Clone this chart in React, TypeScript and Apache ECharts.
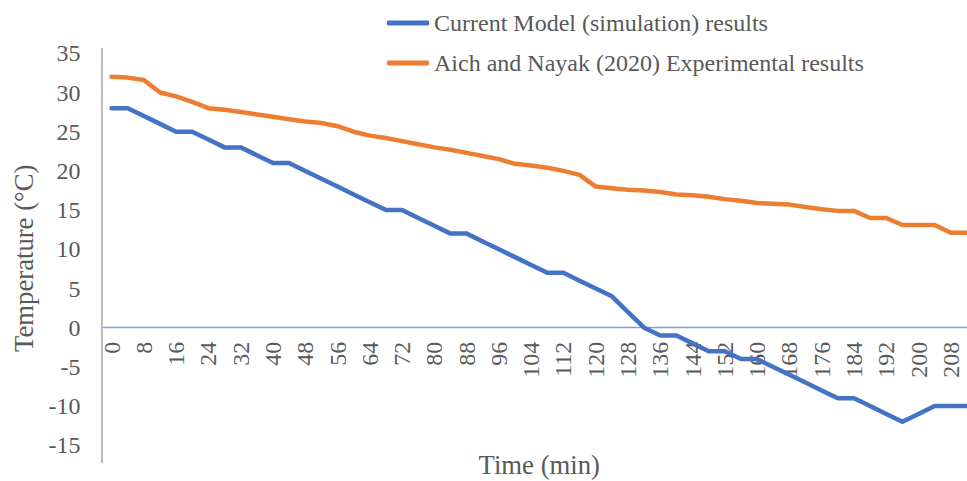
import React, { useEffect, useRef } from "react";
import * as echarts from "echarts";

const timeMinutes: number[] = [
  0, 4, 8, 12, 16, 20, 24, 28, 32, 36, 40, 44, 48, 52, 56, 60, 64, 68, 72, 76,
  80, 84, 88, 92, 96, 100, 104, 108, 112, 116, 120, 124, 128, 132, 136, 140,
  144, 148, 152, 156, 160, 164, 168, 172, 176, 180, 184, 188, 192, 196, 200,
  204, 208, 212,
];

const simulationResults: number[] = [
  28, 28, 27, 26, 25, 25, 24, 23, 23, 22, 21, 21, 20, 19, 18, 17, 16, 15, 15,
  14, 13, 12, 12, 11, 10, 9, 8, 7, 7, 6, 5, 4, 2, 0, -1, -1, -2, -3, -3, -4,
  -4, -5, -6, -7, -8, -9, -9, -10, -11, -12, -11, -10, -10, -10,
];

const experimentalResults: number[] = [
  32.0, 31.9, 31.6, 30.0, 29.5, 28.8, 28.0, 27.8, 27.5, 27.2, 26.9, 26.6,
  26.3, 26.1, 25.7, 25.0, 24.5, 24.2, 23.8, 23.4, 23.0, 22.7, 22.3, 21.9,
  21.5, 20.9, 20.7, 20.4, 20.0, 19.5, 18.0, 17.8, 17.6, 17.5, 17.3, 17.0,
  16.9, 16.7, 16.4, 16.2, 15.9, 15.8, 15.7, 15.4, 15.1, 14.9, 14.9, 14.0,
  14.0, 13.1, 13.1, 13.1, 12.1, 12.1,
];

const seriesNames: string[] = [
  "Current Model (simulation) results",
  "Aich and Nayak (2020) Experimental results",
];

const yTicks = { min: -15, max: 35, interval: 5 };

const FONT = '"Liberation Serif", "Times New Roman", serif';
const TEXT = "#595959";

export default function App() {
  const ref = useRef<HTMLDivElement>(null);
  useEffect(() => {
    if (!ref.current) return;
    const chart = echarts.init(ref.current, undefined, { renderer: "svg" });
    const gridTop = 53.3;
    const gridBottom = 35.7;
    const plotH = 481 - gridTop - gridBottom;
    const zeroOffset = (plotH * (0 - yTicks.min)) / (yTicks.max - yTicks.min);
    chart.setOption({
      animation: false,
      backgroundColor: "#ffffff",
      textStyle: { fontFamily: FONT, color: TEXT },
      legend: {
        orient: "vertical",
        left: 382,
        top: 4,
        itemWidth: 42,
        itemHeight: 5,
        itemGap: 12,
        icon: "roundRect",
        textStyle: { fontFamily: FONT, fontSize: 24, color: TEXT, lineHeight: 28 },
        data: seriesNames,
      },
      grid: {
        left: 103.5,
        right: -8,
        top: gridTop,
        bottom: gridBottom,
        containLabel: false,
        outerBoundsMode: "none",
      },
      xAxis: {
        type: "category",
        data: timeMinutes.map(String),
        boundaryGap: true,
        position: "bottom",
        offset: -zeroOffset,
        name: "Time (min)",
        nameLocation: "middle",
        nameGap: 124,
        nameTextStyle: { fontFamily: FONT, fontSize: 26.7, color: TEXT },
        axisLine: { show: true, onZero: false, lineStyle: { color: "#7f9fd8", width: 1.3 } },
        axisTick: { show: false },
        axisLabel: {
          interval: 1,
          rotate: 90,
          margin: 14,
          fontFamily: FONT,
          fontSize: 24,
          color: TEXT,
        },
        splitLine: { show: false },
      },
      yAxis: {
        type: "value",
        min: yTicks.min,
        max: yTicks.max,
        interval: yTicks.interval,
        name: "Temperature (°C)",
        nameLocation: "middle",
        nameGap: 56,
        nameTextStyle: { fontFamily: FONT, fontSize: 26.7, color: TEXT, padding: [0, 18, 0, 0] },
        axisLine: { show: false },
        axisTick: { show: false },
        axisLabel: { margin: 23, fontFamily: FONT, fontSize: 24, color: TEXT },
        splitLine: { show: false },
      },
      graphic: [
        {
          type: "line",
          shape: { x1: 102, y1: 48, x2: 102, y2: 463 },
          style: { stroke: "#a6a6a6", lineWidth: 1.5 },
          silent: true,
        },
      ],
      series: [
        {
          name: seriesNames[0],
          type: "line",
          data: simulationResults,
          symbol: "none",
          color: "#4472C4",
          lineStyle: { width: 4.5, color: "#4472C4", cap: "round", join: "round" },
          z: 3,
        },
        {
          name: seriesNames[1],
          type: "line",
          data: experimentalResults,
          symbol: "none",
          color: "#ED7D31",
          lineStyle: { width: 4.5, color: "#ED7D31", cap: "round", join: "round" },
          z: 2,
        },
      ],
    });
    return () => chart.dispose();
  }, []);
  return (
    <div
      ref={ref}
      style={{ position: "fixed", left: 0, top: 0, width: 967, height: 481 }}
    />
  );
}
